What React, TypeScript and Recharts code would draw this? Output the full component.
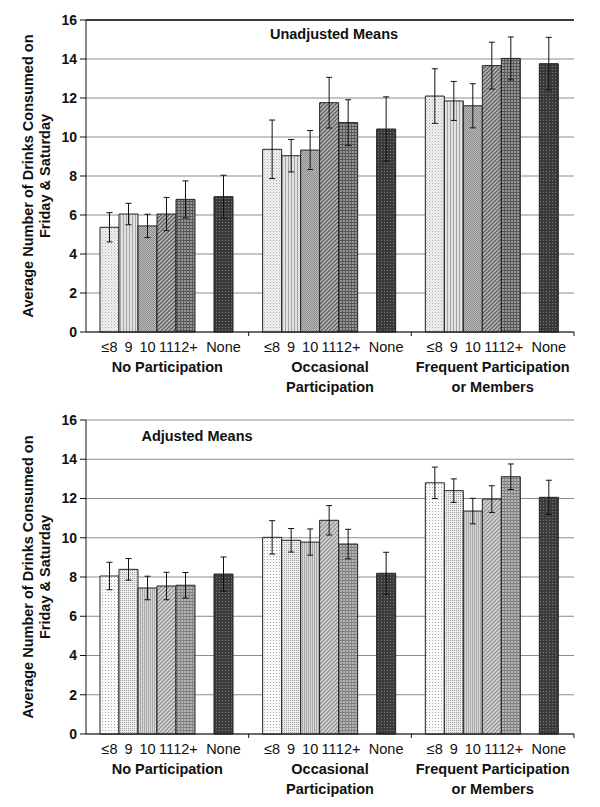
import React from 'react';
import { BarChart, Bar, XAxis, YAxis, CartesianGrid, ErrorBar, LabelList, ReferenceLine } from 'recharts';

const groups = ['No Participation', 'Occasional|Participation', 'Frequent Participation|or Members'];
const subLabels = ['≤8', '9', '10', '11', '12+', 'None'];
const yTicks = [0, 2, 4, 6, 8, 10, 12, 14, 16];

// Unadjusted means (order follows subLabels)
const unadjNone = [5.37, 6.05, 5.44, 6.05, 6.8, 6.94];
const unadjNoneErr = [0.75, 0.55, 0.6, 0.85, 0.95, 1.1];
const unadjOcc = [9.37, 9.04, 9.33, 11.76, 10.74, 10.41];
const unadjOccErr = [1.5, 0.83, 1.0, 1.3, 1.17, 1.65];
const unadjFreq = [12.1, 11.85, 11.6, 13.66, 14.03, 13.76];
const unadjFreqErr = [1.4, 1.0, 1.13, 1.2, 1.1, 1.35];

// Adjusted means
const adjNone = [8.05, 8.39, 7.44, 7.54, 7.58, 8.15];
const adjNoneErr = [0.7, 0.55, 0.6, 0.7, 0.65, 0.87];
const adjOcc = [10.02, 9.87, 9.78, 10.89, 9.68, 8.19];
const adjOccErr = [0.85, 0.6, 0.67, 0.75, 0.75, 1.07];
const adjFreq = [12.8, 12.4, 11.36, 11.97, 13.11, 12.06];
const adjFreqErr = [0.8, 0.6, 0.65, 0.68, 0.65, 0.87];

const seriesKeys = ['s0', 's1', 's2', 's3', 's4', 's5'];

function buildRows(vals: number[][], errs: number[][]) {
  return groups.map((g, i) => {
    const row: any = { group: g };
    seriesKeys.forEach((k, j) => {
      row[k] = vals[i][j];
      row[k + 'Err'] = errs[i][j];
    });
    return row;
  });
}

const unadjRows = buildRows([unadjNone, unadjOcc, unadjFreq], [unadjNoneErr, unadjOccErr, unadjFreqErr]);
const adjRows = buildRows([adjNone, adjOcc, adjFreq], [adjNoneErr, adjOccErr, adjFreqErr]);

const FONT = '"Liberation Sans", Arial, Helvetica, sans-serif';
const FS = 14.5;

function Patterns() {
  return (
    <svg width={0} height={0} style={{ position: 'absolute' }}>
      <defs>
        {/* top chart */}
        <pattern id="t0" width={3} height={3} patternUnits="userSpaceOnUse">
          <rect width={3} height={3} fill="#f0f0f0" />
          <rect width={1} height={1} fill="#b0b0b0" />
          <rect x={1.5} y={1.5} width={1} height={1} fill="#c8c8c8" />
        </pattern>
        <pattern id="t1" width={3} height={3} patternUnits="userSpaceOnUse">
          <rect width={3} height={3} fill="#e2e2e2" />
          <rect width={1} height={3} fill="#a4a4a4" />
        </pattern>
        <pattern id="t2" width={2} height={2} patternUnits="userSpaceOnUse">
          <rect width={2} height={2} fill="#bcbcbc" />
          <rect width={1} height={1} fill="#8a8a8a" />
          <rect x={1} y={1} width={1} height={1} fill="#8a8a8a" />
        </pattern>
        <pattern id="t3" width={4} height={4} patternUnits="userSpaceOnUse">
          <rect width={4} height={4} fill="#b4b4b4" />
          <path d="M-1,1 L1,-1 M0,4 L4,0 M3,5 L5,3" stroke="#555" strokeWidth={1.2} />
        </pattern>
        <pattern id="t4" width={3} height={3} patternUnits="userSpaceOnUse">
          <rect width={3} height={3} fill="#959595" />
          <rect width={3} height={1} fill="#555" />
          <rect width={1} height={3} fill="#5a5a5a" />
        </pattern>
        <pattern id="t5" width={3} height={3} patternUnits="userSpaceOnUse">
          <rect width={3} height={3} fill="#3a3a3a" />
          <rect width={1} height={1} fill="#777" />
        </pattern>
        {/* bottom chart */}
        <pattern id="b0" width={3} height={3} patternUnits="userSpaceOnUse">
          <rect width={3} height={3} fill="#fafafa" />
          <rect width={1} height={1} fill="#a8a8a8" />
        </pattern>
        <pattern id="b1" width={2} height={2} patternUnits="userSpaceOnUse">
          <rect width={2} height={2} fill="#ececec" />
          <rect width={1} height={1} fill="#a0a0a0" />
        </pattern>
        <pattern id="b2" width={2} height={2} patternUnits="userSpaceOnUse">
          <rect width={2} height={2} fill="#d8d8d8" />
          <rect width={1} height={2} fill="#a8a8a8" />
        </pattern>
        <pattern id="b3" width={4} height={4} patternUnits="userSpaceOnUse">
          <rect width={4} height={4} fill="#d4d4d4" />
          <path d="M-1,1 L1,-1 M0,4 L4,0 M3,5 L5,3" stroke="#8a8a8a" strokeWidth={1.1} />
        </pattern>
        <pattern id="b4" width={3} height={3} patternUnits="userSpaceOnUse">
          <rect width={3} height={3} fill="#b4b4b4" />
          <rect width={3} height={1} fill="#7a7a7a" />
          <rect width={1} height={3} fill="#888" />
        </pattern>
        <pattern id="b5" width={3} height={3} patternUnits="userSpaceOnUse">
          <rect width={3} height={3} fill="#3c3c3c" />
          <rect width={1} height={1} fill="#777" />
        </pattern>
      </defs>
    </svg>
  );
}

function GroupTick(props: any) {
  const { x, y, payload } = props;
  const lines = String(payload.value).split('|');
  const off = payload.offset;
  return (
    <g>
      {off ? <line x1={x + off} x2={x + off} y1={y} y2={y + 4} stroke="#111" /> : null}
      <text x={x} y={y + 40} textAnchor="middle" fontFamily={FONT} fontSize={FS} fontWeight="bold" fill="#111">
        {lines.map((l, i) => (
          <tspan key={i} x={x} dy={i === 0 ? 0 : 19.5}>
            {l}
          </tspan>
        ))}
      </text>
    </g>
  );
}

function YTitle(props: any) {
  const vb = props.viewBox || { x: 0, y: 0, width: 0, height: 0 };
  const cx = vb.x + 33;
  const cy = vb.y + vb.height / 2;
  return (
    <text transform={`rotate(-90, ${cx}, ${cy})`} x={cx} y={cy} textAnchor="middle" fontFamily={FONT} fontSize={FS} fontWeight="bold" fill="#111">
      <tspan x={cx} dy={0}>Average Number of Drinks Consumed on</tspan>
      <tspan x={cx} dy={17}>Friday &amp; Saturday</tspan>
    </text>
  );
}

function subLabel(text: string) {
  return (p: any) => {
    if (p.x == null || p.width == null) return null;
    const cx = Number(p.x) + Number(p.width) / 2;
    const base = Number(p.y) + Number(p.height);
    return (
      <text x={cx} y={base + 20} textAnchor="middle" fontFamily={FONT} fontSize={FS} fill="#111">
        {text}
      </text>
    );
  };
}

function MeansChart({ rows, prefix, height, bottom, darkTop }: any) {
  return (
    <BarChart
      width={600}
      height={height}
      data={rows}
      margin={{ top: 20, right: 26, bottom, left: 0 }}
      barCategoryGap="8.6%"
      barGap={0}
    >
      <CartesianGrid vertical={false} stroke="#8c8c8c" strokeWidth={1} />
      <XAxis
        dataKey="group"
        height={60}
        axisLine={{ stroke: '#111' }}
        tickLine={false}
        tickSize={0}
        tickMargin={0}
        interval={0}
        tick={<GroupTick />}
      />
      <YAxis
        width={86}
        domain={[0, 16]}
        ticks={yTicks}
        interval={0}
        axisLine={{ stroke: '#111' }}
        tickLine={{ stroke: '#111' }}
        tickSize={6}
        tickMargin={3}
        tick={{ fontFamily: FONT, fontSize: 14, fontWeight: 'bold', fill: '#111' }}
        label={<YTitle />}
      />
      {darkTop ? <ReferenceLine y={16} stroke="#111" strokeWidth={1.5} /> : null}
      {seriesKeys.slice(0, 5).map((k, j) => (
        <Bar key={k} dataKey={k} fill={`url(#${prefix}${j})`} stroke="#222" strokeWidth={1} isAnimationActive={false}>
          <ErrorBar dataKey={k + 'Err'} width={3} stroke="#111" strokeWidth={1} />
          <LabelList dataKey={k} content={subLabel(subLabels[j])} />
        </Bar>
      ))}
      <Bar dataKey="gap" fill="none" isAnimationActive={false} />
      <Bar dataKey="s5" fill={`url(#${prefix}5)`} stroke="#222" strokeWidth={1} isAnimationActive={false}>
        <ErrorBar dataKey="s5Err" width={3} stroke="#111" strokeWidth={1} />
        <LabelList dataKey="s5" content={subLabel(subLabels[5])} />
      </Bar>
    </BarChart>
  );
}

const titleStyle: React.CSSProperties = {
  position: 'absolute',
  fontFamily: FONT,
  fontSize: FS,
  fontWeight: 'bold',
  color: '#111',
  transform: 'translate(-50%, -50%)',
  whiteSpace: 'nowrap',
};

export default function App() {
  return (
    <div style={{ position: 'absolute', left: 0, top: 0, width: 600, height: 807, background: '#fff', overflow: 'hidden' }}>
      <Patterns />
      <div style={{ position: 'absolute', left: 0, top: 0 }}>
        <MeansChart rows={unadjRows} prefix="t" height={400} bottom={8} darkTop />
      </div>
      <div style={{ position: 'absolute', left: 0, top: 400 }}>
        <MeansChart rows={adjRows} prefix="b" height={407} bottom={13} />
      </div>
      <div style={{ ...titleStyle, left: 334, top: 34 }}>Unadjusted Means</div>
      <div style={{ ...titleStyle, left: 197, top: 436 }}>Adjusted Means</div>
    </div>
  );
}
